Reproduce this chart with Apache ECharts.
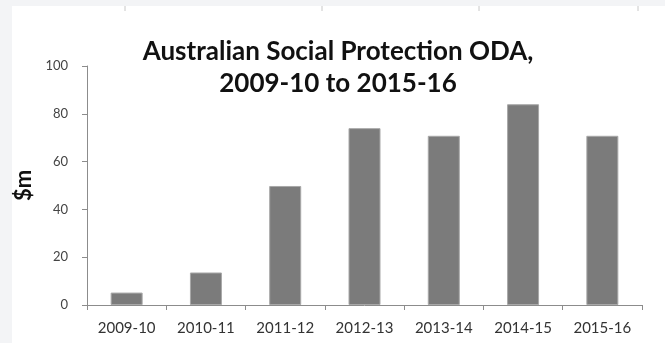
<!DOCTYPE html>
<html><head><meta charset="utf-8">
<script src="https://cdn.jsdelivr.net/npm/echarts@6/dist/echarts.min.js"></script>
<style>html,body{margin:0;padding:0;background:#f3f4f6;}#c{width:665px;height:343px;}</style>
</head><body><div id="c"></div>
<script>
const categories = ['2009-10','2010-11','2011-12','2012-13','2013-14','2014-15','2015-16'];
const values = [5.2, 13.6, 49.8, 74, 70.8, 84, 70.8];
const yTicks = [0, 20, 40, 60, 80, 100];
const titleLines = ['Australian Social Protection ODA,', '2009-10 to 2015-16'];

const chart = echarts.init(document.getElementById('c'), null, {renderer:'canvas'});
chart.setOption({
  backgroundColor: '#f3f4f6',
  animation: false,
  graphic: [
    {type:'rect', shape:{x:12,y:6,width:653,height:337}, style:{fill:'#ffffff'}, z:-10},
    {type:'line', shape:{x1:125,y1:6,x2:125,y2:11}, style:{stroke:'#c8c8c8',lineWidth:1}},
    {type:'line', shape:{x1:322,y1:6,x2:322,y2:11}, style:{stroke:'#c8c8c8',lineWidth:1}},
    {type:'line', shape:{x1:479,y1:6,x2:479,y2:11}, style:{stroke:'#c8c8c8',lineWidth:1}},
    {type:'line', shape:{x1:638,y1:6,x2:638,y2:11}, style:{stroke:'#c8c8c8',lineWidth:1}}
  ],
  title: {
    text: titleLines.join('\n'),
    left: 333, top: 31, textAlign: 'center',
    textStyle: {fontFamily:'Lato', fontWeight:'bold', fontSize:26, lineHeight:32, color:'#111'}
  },
  grid: {left:87, right:23, top:66, bottom:38},
  xAxis: {
    type:'category', data: categories,
    axisLine:{lineStyle:{color:'#8c8c8c', width:1}},
    axisTick:{show:true, length:5, lineStyle:{color:'#8c8c8c'}},
    axisLabel:{fontFamily:'Lato', fontSize:15, color:'#333', margin:16}
  },
  yAxis: {
    type:'value', min:0, max:100, interval:20,
    name:'$m', nameLocation:'middle', nameGap:52, nameRotate:90,
    nameTextStyle:{fontFamily:'Lato', fontWeight:'bold', fontSize:22, color:'#111'},
    axisLine:{show:true, lineStyle:{color:'#8c8c8c', width:1}},
    axisTick:{show:true, length:5, lineStyle:{color:'#8c8c8c'}},
    splitLine:{show:false},
    axisLabel:{fontFamily:'Lato', fontSize:13, color:'#444', margin:19,
      formatter: v => yTicks.includes(v) ? String(v) : ''}
  },
  series: [{
    type:'bar', data: values, barWidth: 32,
    itemStyle:{color:'#7b7b7b', borderColor:'#a8a8a8', borderWidth:1}
  }]
});
</script></body></html>
